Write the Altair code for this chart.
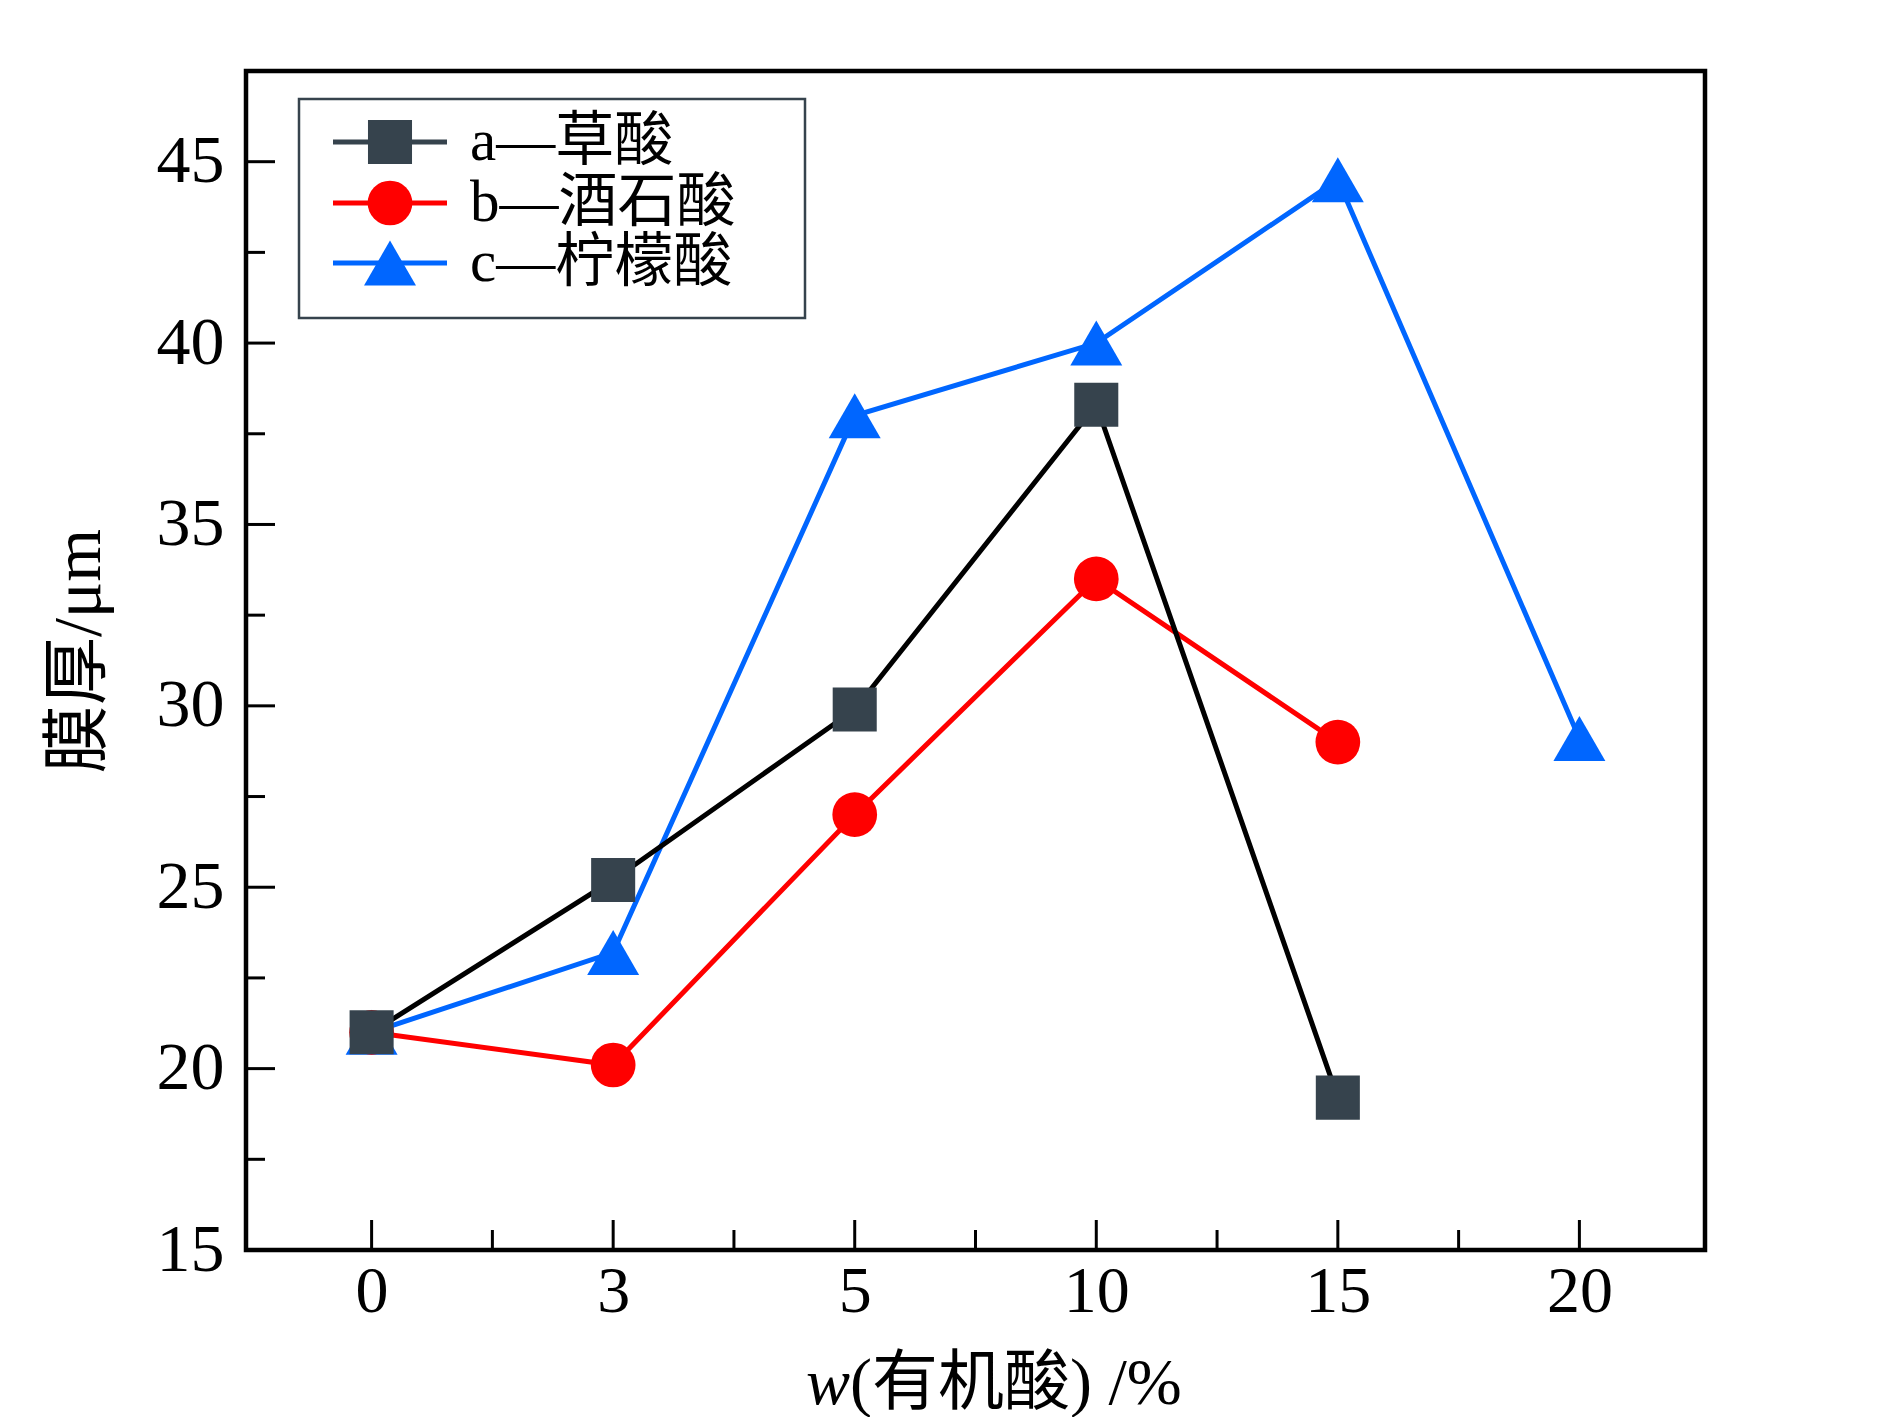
import json

import altair as alt
import pandas as pd

# Organic acid content (category axis) and film thickness of each series
x_labels = ["0", "3", "5", "10", "15", "20"]
oxalic = [21.0, 25.2, 29.9, 38.3, 19.2]
tartaric = [21.0, 20.1, 27.0, 33.5, 29.0]
citric = [21.0, 23.2, 38.0, 40.0, 44.5, 29.1]

series_names = ["a—草酸", "b—酒石酸", "c—柠檬酸"]
line_colors = ["#000000", "#ff0000", "#0066ff"]
legend_line_colors = ["#36434d", "#ff0000", "#0066ff"]
marker_colors = ["#36434d", "#ff0000", "#0066ff"]
marker_shapes = ["square", "circle", "triangle-up"]
marker_sizes = [1940, 2000, 2700]

y_major = [15, 20, 25, 30, 35, 40, 45]
y_minor = [17.5, 22.5, 27.5, 32.5, 37.5, 42.5]
x_major = list(range(len(x_labels)))
x_minor = [0.5, 1.5, 2.5, 3.5, 4.5]

SERIF = "'Liberation Serif', 'Noto Sans CJK SC', serif"
W, H = 1459, 1179

x_scale = alt.Scale(domain=[-0.52, 5.52], nice=False, zero=False)
y_scale = alt.Scale(domain=[15, 47.5], nice=False, zero=False)

label_expr = json.dumps(x_labels) + "[datum.value]"

x_axis = alt.Axis(
    values=x_major, labelExpr=label_expr, labelFont=SERIF, labelFontSize=66,
    labelColor="black", labelPadding=9, ticks=False, domain=False, grid=False,
    title=None,
)
y_axis = alt.Axis(
    values=y_major, labelFont=SERIF, labelFontSize=68, labelColor="black",
    labelPadding=22, ticks=False, domain=False, grid=False, title=None,
)


def X(field):
    return alt.X(field, scale=x_scale, axis=x_axis)


def Y(field):
    return alt.Y(field, scale=y_scale, axis=y_axis)


def series_frame(values):
    return pd.DataFrame({"idx": list(range(len(values))), "value": values})


frames = [series_frame(oxalic), series_frame(tartaric), series_frame(citric)]

layers = []
# draw citric first, oxalic last so the squares sit on top
for i in [2, 1, 0]:
    df = frames[i]
    line = alt.Chart(df).mark_line(color=line_colors[i], strokeWidth=5).encode(
        x=X("idx:Q"), y=Y("value:Q")
    )
    pts = alt.Chart(df).mark_point(
        shape=marker_shapes[i], size=marker_sizes[i], filled=True,
        color=marker_colors[i], opacity=1, strokeWidth=0,
    ).encode(x=X("idx:Q"), y=Y("value:Q"))
    layers += [line, pts]

# inward-pointing ticks
ytick_major = alt.Chart(pd.DataFrame({"v": y_major})).mark_rule(color="black", strokeWidth=3).encode(
    y=Y("v:Q"), x=alt.value(0), x2=alt.value(29)
)
ytick_minor = alt.Chart(pd.DataFrame({"v": y_minor})).mark_rule(color="black", strokeWidth=3).encode(
    y=Y("v:Q"), x=alt.value(0), x2=alt.value(19)
)
xtick_major = alt.Chart(pd.DataFrame({"v": x_major})).mark_rule(color="black", strokeWidth=3).encode(
    x=X("v:Q"), y=alt.value(H - 30), y2=alt.value(H)
)
xtick_minor = alt.Chart(pd.DataFrame({"v": x_minor})).mark_rule(color="black", strokeWidth=3).encode(
    x=X("v:Q"), y=alt.value(H - 20), y2=alt.value(H)
)
layers += [ytick_major, ytick_minor, xtick_major, xtick_minor]

one = pd.DataFrame({"k": [0]})

# axis titles
y_title = alt.Chart(one).mark_text(
    text="膜厚/μm", font=SERIF, fontSize=68, angle=270, align="center",
    baseline="bottom", color="black",
).encode(x=alt.value(-132), y=alt.value(580))
x_title_w = alt.Chart(one).mark_text(
    text="w", font=SERIF, fontSize=66, fontStyle="italic", align="left",
    baseline="alphabetic", color="black",
).encode(x=alt.value(560), y=alt.value(1333))
x_title_rest = alt.Chart(one).mark_text(
    text="(有机酸) /%", font=SERIF, fontSize=66, align="left",
    baseline="alphabetic", color="black",
).encode(x=alt.value(604), y=alt.value(1333))
layers += [y_title, x_title_w, x_title_rest]

# legend box
legend_box = alt.Chart(one).mark_rect(
    fill="white", fillOpacity=0, stroke="#36434d", strokeWidth=2.5
).encode(x=alt.value(53), x2=alt.value(559), y=alt.value(28), y2=alt.value(247))
layers.append(legend_box)

row_y = [71, 132, 192]
for i in range(3):
    ly = row_y[i]
    layers.append(
        alt.Chart(one).mark_rule(color=legend_line_colors[i], strokeWidth=5).encode(
            x=alt.value(87), x2=alt.value(201), y=alt.value(ly)
        )
    )
    layers.append(
        alt.Chart(one).mark_point(
            shape=marker_shapes[i], size=marker_sizes[i], filled=True,
            color=marker_colors[i], opacity=1, strokeWidth=0,
        ).encode(x=alt.value(144), y=alt.value(ly))
    )
    layers.append(
        alt.Chart(one).mark_text(
            text=series_names[i], font=SERIF, fontSize=59, align="left",
            baseline="middle", color="black",
        ).encode(x=alt.value(224), y=alt.value(ly))
    )

chart = alt.layer(*layers).properties(
    width=W,
    height=H,
    padding={"left": 246, "top": 71, "right": 185, "bottom": 167},
    autosize=alt.AutoSizeParams(type="none"),
    background="white",
).configure_view(
    stroke="black", strokeWidth=4.5
)

chart.save("out.html", embed_options={"renderer": "svg", "actions": False})
